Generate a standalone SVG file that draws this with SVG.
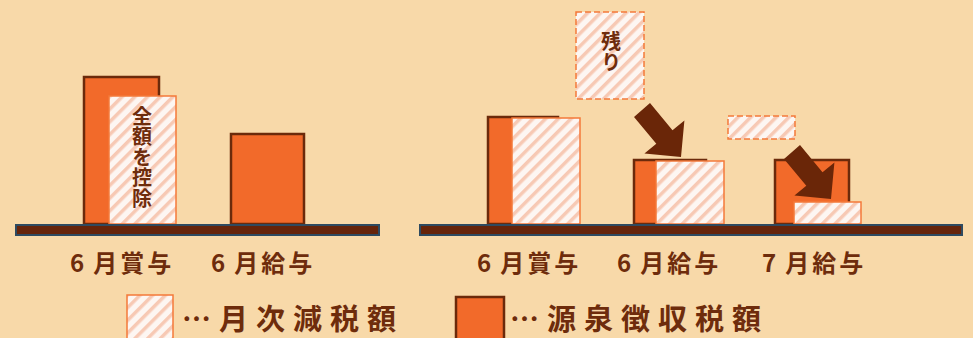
<svg xmlns="http://www.w3.org/2000/svg" width="973" height="338" viewBox="0 0 973 338">
<defs>
<pattern id="hatch" width="9" height="9" patternUnits="userSpaceOnUse" patternTransform="rotate(45)">
<rect width="9" height="9" fill="#FDF6F2"/>
<rect width="3.5" height="9" fill="#F7C9B4"/>
</pattern>
<polygon id="arrow" points="650,103 672.5,130.3 684.4,120.4 681,157 644.4,153.6 656.3,143.7 634,117"/>
</defs>
<style>
.bar{fill:#F26A2A;stroke:#6B2A0B;stroke-width:2.5}
.hat{fill:url(#hatch);stroke:#F4793A;stroke-width:1.5}
.dash{fill:url(#hatch);stroke:#F4793A;stroke-width:1.5;stroke-dasharray:6 3}
.base{fill:#66240A;stroke:#2E4A60;stroke-width:2}
.lbl{font-family:"Noto Sans CJK JP","Noto Sans",sans-serif;font-weight:bold;font-size:24px;fill:#6E2C0C;letter-spacing:3px}
.vt{font-family:"Noto Sans CJK JP",sans-serif;font-weight:bold;font-size:20px;fill:#6E2C0C;writing-mode:vertical-rl}
.leg{font-family:"Noto Sans CJK JP","Noto Sans",sans-serif;font-weight:bold;font-size:29px;fill:#6E2C0C;letter-spacing:8px}
.arr{fill:#6A2608}
</style>
<rect width="973" height="338" fill="#F8D9A9"/>

<g id="left-bonus6">
<rect class="bar" x="84" y="77" width="75" height="147"/>
<rect class="hat" x="109" y="96" width="67" height="128"/>
<text class="vt" x="142" y="106" letter-spacing="0.5">全額を控除</text>
</g>
<g id="left-salary6">
<rect class="bar" x="231" y="134" width="73" height="90"/>
</g>
<g id="left-base">
<rect class="base" x="16" y="225" width="363" height="10"/>
<text class="lbl" x="70" y="272">6<tspan dx="6">月賞与</tspan></text>
<text class="lbl" x="211" y="272">6<tspan dx="6">月給与</tspan></text>
</g>

<g id="right-bonus6">
<rect class="bar" x="488" y="117" width="70" height="107"/>
<rect class="hat" x="512" y="118" width="68" height="106"/>
</g>
<g id="right-salary6">
<rect class="bar" x="634" y="160" width="72" height="64"/>
<rect class="hat" x="656" y="161" width="68" height="63"/>
</g>
<g id="right-salary7">
<rect class="bar" x="775" y="160" width="74" height="64"/>
<rect class="hat" x="794" y="202" width="67" height="22"/>
</g>
<g id="remain">
<rect class="dash" x="576" y="12" width="68" height="87"/>
<text class="vt" x="611" y="31" font-size="19" letter-spacing="1">残り</text>
</g>
<g id="remain-small">
<rect class="dash" x="728" y="116" width="67" height="23"/>
</g>
<g id="connectors">
<use href="#arrow" class="arr"/>
<use href="#arrow" class="arr" transform="translate(150,42)"/>
</g>
<g id="right-base">
<rect class="base" x="420" y="225" width="542" height="10"/>
<text class="lbl" x="477" y="272">6<tspan dx="6">月賞与</tspan></text>
<text class="lbl" x="617" y="272">6<tspan dx="6">月給与</tspan></text>
<text class="lbl" x="762" y="272">7<tspan dx="6">月給与</tspan></text>
</g>

<g id="legend-reduction">
<rect class="hat" x="127" y="295" width="46" height="50"/>
<text class="leg" x="182" y="330">…月次減税額</text>
</g>
<g id="legend-withholding">
<rect class="bar" x="456" y="297" width="48" height="50"/>
<text class="leg" x="510" y="330">…源泉徴収税額</text>
</g>
</svg>
